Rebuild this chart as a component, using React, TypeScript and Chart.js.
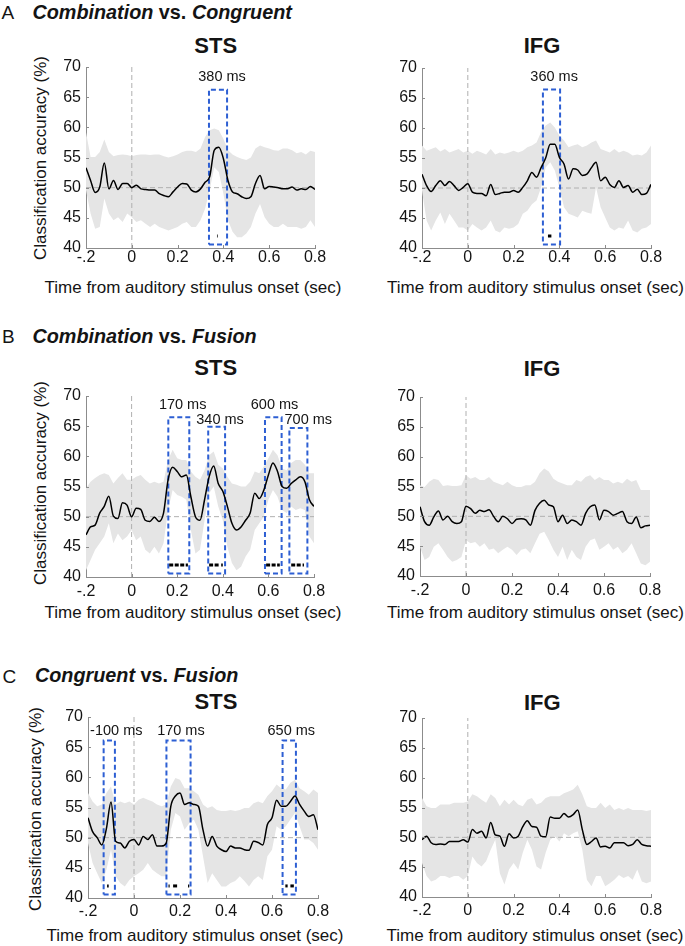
import React, { useEffect, useRef } from 'react';
import { Chart, registerables } from 'chart.js';

Chart.register(...registerables);

// ---------------- DATA ----------------
const TIME = [
  -0.2, -0.18, -0.16, -0.14, -0.12, -0.1, -0.08, -0.06, -0.04, -0.02,
  0, 0.02, 0.04, 0.06, 0.08, 0.1, 0.12, 0.14, 0.16, 0.18,
  0.2, 0.22, 0.24, 0.26, 0.28, 0.3, 0.32, 0.34, 0.36, 0.38,
  0.4, 0.42, 0.44, 0.46, 0.48, 0.5, 0.52, 0.54, 0.56, 0.58,
  0.6, 0.62, 0.64, 0.66, 0.68, 0.7, 0.72, 0.74, 0.76, 0.78, 0.8,
];

const X_TICKS = [-0.2, 0, 0.2, 0.4, 0.6, 0.8];
const X_TICK_LABELS = ['-.2', '0', '0.2', '0.4', '0.6', '0.8'];
const Y_TICKS = [40, 45, 50, 55, 60, 65, 70];
const CHANCE = 50;
const ONSET = 0;
const SIG_LEVEL = 42;
const WIN_BOTTOM = 40.6;

// A: Combination vs. Congruent — STS
const A_STS_MEAN = [53.3, 51.2, 49.2, 50.1, 54.1, 49.8, 51.2, 49.7, 50.7, 50.7, 50.0, 50.4, 49.8, 49.7, 49.6, 49.6, 49.0, 48.7, 48.5, 49.3, 50.1, 50.7, 50.6, 49.6, 49.3, 49.8, 50.9, 51.8, 56.2, 56.7, 54.8, 51.2, 49.3, 49.0, 48.5, 48.2, 48.5, 50.7, 52.0, 49.8, 50.2, 50.1, 50.0, 49.8, 49.8, 50.1, 49.6, 49.8, 49.7, 50.2, 49.7];
const A_STS_UPPER = [59.2, 55.1, 55.1, 55.9, 58.0, 55.9, 55.2, 55.4, 55.5, 55.4, 55.2, 55.4, 55.5, 55.5, 55.4, 55.5, 55.5, 55.2, 55.0, 55.2, 55.5, 55.9, 56.1, 56.1, 55.9, 56.5, 58.4, 59.5, 59.8, 59.5, 58.1, 56.2, 55.5, 55.1, 54.8, 54.6, 55.0, 56.5, 57.0, 56.7, 56.5, 56.2, 56.1, 56.5, 56.5, 56.2, 55.7, 55.9, 55.5, 56.1, 55.9];
const A_STS_LOWER = [49.6, 45.7, 43.2, 43.5, 48.2, 45.7, 44.6, 45.1, 44.3, 45.7, 45.1, 44.3, 44.6, 44.0, 43.5, 44.0, 43.5, 43.2, 42.9, 43.2, 43.5, 44.0, 44.3, 43.5, 43.5, 44.6, 46.5, 49.6, 53.4, 52.6, 49.0, 44.6, 42.7, 41.8, 41.8, 42.4, 43.5, 45.7, 47.3, 45.1, 44.0, 43.5, 43.5, 44.0, 43.5, 43.5, 43.5, 43.2, 43.5, 44.6, 43.5];
const A_STS_WIN_START = [0.337];
const A_STS_WIN_END = [0.416];
const A_STS_WIN_TOP = [66.25];
const A_STS_WIN_LABEL = ['380 ms'];
const A_STS_SIG = [[0.372, 0.375]];

// A: Combination vs. Congruent — IFG
const A_IFG_MEAN = [52.3, 50.4, 49.4, 50.4, 51.2, 50.4, 51.1, 50.4, 49.6, 50.1, 50.7, 49.3, 49.1, 49.1, 48.7, 50.6, 48.9, 49.1, 49.3, 49.3, 49.6, 49.3, 50.1, 51.2, 52.6, 51.8, 53.4, 55.0, 57.3, 57.3, 55.1, 54.0, 51.5, 53.2, 53.0, 52.1, 52.3, 53.4, 54.3, 51.2, 51.8, 50.6, 50.1, 51.2, 50.1, 50.4, 49.3, 49.8, 48.9, 49.1, 50.6];
const A_IFG_UPPER = [57.1, 56.2, 56.5, 56.8, 56.1, 56.5, 55.9, 56.2, 56.5, 55.9, 56.2, 55.7, 56.2, 55.9, 55.6, 56.5, 55.6, 55.9, 55.7, 55.9, 56.2, 55.9, 56.2, 56.8, 57.1, 57.6, 59.3, 60.4, 60.9, 60.1, 58.7, 57.9, 56.8, 57.1, 57.3, 56.8, 57.1, 57.6, 57.9, 56.5, 56.2, 55.9, 56.5, 55.9, 56.2, 55.9, 55.4, 55.6, 55.4, 55.9, 57.1];
const A_IFG_LOWER = [49.6, 44.6, 42.9, 44.6, 45.9, 44.0, 45.7, 44.6, 43.4, 43.4, 42.9, 44.0, 43.4, 42.9, 43.4, 44.6, 42.9, 42.6, 43.4, 43.2, 43.4, 44.0, 45.7, 46.2, 47.3, 47.9, 50.1, 53.4, 54.3, 52.9, 50.1, 46.8, 45.7, 45.4, 45.1, 46.2, 45.9, 45.7, 50.1, 46.8, 45.1, 43.4, 42.9, 43.4, 43.2, 44.6, 42.9, 42.6, 43.2, 43.4, 44.0];
const A_IFG_WIN_START = [0.328];
const A_IFG_WIN_END = [0.403];
const A_IFG_WIN_TOP = [66.4];
const A_IFG_WIN_LABEL = ['360 ms'];
const A_IFG_SIG = [[0.35, 0.365]];

// B: Combination vs. Fusion — STS
const B_STS_MEAN = [47.0, 48.3, 48.6, 50.6, 51.7, 53.4, 50.1, 49.7, 52.3, 51.9, 50.0, 51.4, 51.2, 49.4, 49.2, 49.9, 49.2, 50.6, 56.1, 58.2, 57.5, 56.6, 56.9, 53.3, 50.0, 49.4, 52.8, 56.6, 58.4, 55.5, 54.2, 51.7, 48.9, 47.8, 48.3, 49.4, 50.6, 53.9, 53.0, 54.4, 56.9, 58.9, 57.5, 55.0, 54.7, 55.5, 56.1, 56.6, 55.8, 52.8, 51.7];
const B_STS_UPPER = [54.7, 55.8, 56.4, 56.9, 57.2, 56.9, 55.5, 56.4, 57.2, 56.1, 56.1, 56.6, 56.9, 56.1, 55.5, 55.8, 55.5, 55.8, 59.4, 61.1, 59.7, 59.4, 59.4, 57.5, 56.6, 56.1, 57.7, 60.2, 60.8, 58.6, 58.0, 56.6, 55.5, 55.3, 55.0, 55.0, 55.8, 57.5, 57.2, 58.3, 59.7, 61.1, 60.2, 58.0, 57.7, 58.9, 59.4, 59.4, 58.6, 57.2, 57.2];
const B_STS_LOWER = [41.1, 42.8, 44.5, 45.6, 46.7, 48.9, 45.6, 47.2, 46.1, 46.7, 47.8, 46.1, 46.7, 44.5, 43.9, 45.0, 43.9, 45.6, 51.1, 54.4, 53.6, 53.3, 52.8, 47.8, 43.9, 44.5, 49.4, 53.9, 55.0, 51.7, 49.4, 45.0, 42.3, 41.1, 41.7, 43.4, 44.5, 47.8, 48.9, 50.0, 52.8, 54.4, 53.3, 51.1, 50.6, 51.7, 51.1, 51.4, 51.1, 46.7, 45.6];
const B_STS_WIN_START = [0.161, 0.336, 0.585, 0.692];
const B_STS_WIN_END = [0.253, 0.41, 0.658, 0.771];
const B_STS_WIN_TOP = [66.46, 64.9, 66.46, 64.7];
const B_STS_WIN_LABEL = ['170 ms', '340 ms', '600 ms', '700 ms'];
const B_STS_SIG = [[0.165, 0.247], [0.34, 0.385], [0.393, 0.4], [0.59, 0.65], [0.70, 0.742], [0.75, 0.756]];

// B: Combination vs. Fusion — IFG
const B_IFG_MEAN = [51.6, 49.1, 48.5, 49.9, 50.9, 49.4, 50.0, 49.1, 48.8, 49.1, 51.7, 51.3, 50.5, 51.0, 50.8, 51.1, 50.0, 49.1, 50.0, 49.6, 48.8, 49.5, 49.6, 49.4, 48.5, 51.0, 52.2, 52.7, 51.9, 51.6, 49.1, 50.2, 48.8, 49.4, 49.1, 48.5, 50.5, 51.6, 51.9, 49.4, 51.0, 50.8, 50.2, 50.5, 50.8, 49.1, 48.8, 49.9, 48.1, 48.4, 48.5];
const B_IFG_UPPER = [55.2, 54.9, 55.8, 56.3, 56.1, 55.1, 55.2, 55.1, 55.1, 55.2, 56.9, 56.3, 56.6, 56.1, 56.1, 56.6, 55.8, 55.5, 55.2, 55.8, 55.2, 54.9, 54.9, 55.2, 55.2, 55.8, 57.2, 58.0, 57.5, 56.3, 55.8, 55.5, 55.2, 55.2, 56.1, 55.8, 56.6, 56.9, 56.1, 56.6, 56.1, 56.1, 55.5, 55.8, 55.5, 56.3, 55.8, 56.1, 54.4, 54.4, 54.4];
const B_IFG_LOWER = [44.9, 42.7, 43.2, 44.9, 45.5, 44.4, 43.2, 42.4, 42.7, 43.2, 46.0, 45.5, 45.7, 44.9, 45.5, 44.4, 44.6, 43.8, 44.4, 44.9, 44.4, 43.5, 44.4, 44.6, 43.8, 45.5, 47.1, 47.4, 46.0, 44.4, 43.2, 44.9, 42.7, 44.4, 43.2, 42.7, 44.9, 46.0, 46.3, 44.4, 44.9, 45.5, 44.4, 44.9, 43.8, 44.4, 45.5, 43.8, 42.1, 41.8, 42.4];
const B_IFG_WIN_START: number[] = [];
const B_IFG_WIN_END: number[] = [];
const B_IFG_WIN_TOP: number[] = [];
const B_IFG_WIN_LABEL: string[] = [];
const B_IFG_SIG: number[][] = [];

// C: Congruent vs. Fusion — STS
const C_STS_MEAN = [53.3, 51.0, 50.0, 48.8, 51.5, 55.9, 49.4, 49.1, 48.3, 49.4, 49.7, 48.8, 50.2, 49.7, 50.5, 48.6, 48.6, 49.1, 55.2, 56.9, 57.4, 55.5, 55.8, 55.5, 55.2, 51.3, 48.6, 50.2, 48.6, 48.0, 47.7, 48.6, 48.3, 48.3, 48.0, 47.9, 49.4, 49.2, 48.8, 52.2, 53.3, 56.2, 55.2, 55.2, 56.0, 56.9, 55.5, 54.4, 53.5, 53.8, 51.3];
const C_STS_UPPER = [57.4, 56.0, 55.2, 55.5, 57.4, 58.5, 55.5, 56.0, 55.7, 56.0, 55.5, 56.3, 56.6, 56.3, 56.0, 55.5, 55.2, 55.5, 58.5, 59.9, 59.6, 58.2, 58.2, 57.7, 57.1, 55.5, 54.9, 55.2, 54.6, 54.4, 54.4, 54.6, 54.4, 54.6, 54.9, 54.9, 55.7, 56.0, 55.7, 56.9, 57.7, 58.8, 58.2, 58.0, 59.1, 59.6, 58.2, 57.7, 57.1, 58.0, 57.4];
const C_STS_LOWER = [49.1, 45.8, 44.1, 42.5, 44.7, 48.0, 43.6, 42.5, 41.9, 43.0, 43.6, 44.1, 44.7, 45.8, 44.7, 44.1, 43.6, 43.6, 51.3, 54.1, 53.5, 51.3, 52.4, 53.0, 51.3, 46.9, 42.5, 44.1, 43.0, 41.9, 41.9, 42.5, 42.8, 43.6, 42.8, 41.9, 43.0, 43.6, 43.0, 46.9, 48.0, 51.9, 51.3, 51.9, 53.0, 54.1, 51.9, 49.7, 49.7, 49.1, 48.0];
const C_STS_WIN_START = [-0.132, 0.141, 0.646];
const C_STS_WIN_END = [-0.083, 0.246, 0.704];
const C_STS_WIN_TOP = [66.1, 66.1, 66.1];
const C_STS_WIN_LABEL = ['-100 ms', '170 ms', '650 ms'];
const C_STS_SIG = [[-0.117, -0.11], [0.15, 0.155], [0.17, 0.19], [0.235, 0.24], [0.658, 0.668], [0.68, 0.695]];

// C: Congruent vs. Fusion — IFG
const C_IFG_MEAN = [49.6, 50.2, 49.1, 48.8, 48.9, 48.8, 49.3, 49.3, 49.3, 49.6, 49.2, 51.3, 50.7, 51.0, 49.9, 52.5, 50.4, 50.2, 48.5, 50.6, 49.9, 50.2, 51.8, 52.8, 51.8, 51.7, 50.2, 50.1, 53.4, 53.2, 53.2, 54.0, 53.4, 53.8, 54.6, 51.3, 48.8, 49.3, 49.9, 48.4, 48.5, 48.2, 49.1, 49.1, 49.1, 48.6, 48.8, 49.6, 48.8, 48.6, 48.5];
const C_IFG_UPPER = [56.6, 55.2, 54.9, 54.9, 55.5, 55.5, 55.5, 55.8, 55.8, 55.8, 56.0, 57.2, 56.9, 56.3, 55.8, 57.2, 56.6, 55.2, 56.3, 55.5, 56.3, 55.5, 55.2, 56.3, 56.6, 55.5, 55.8, 56.6, 56.9, 56.9, 56.9, 57.4, 57.7, 58.0, 58.8, 57.2, 55.2, 54.9, 54.9, 55.8, 54.9, 55.5, 54.6, 54.9, 54.6, 54.9, 54.6, 54.6, 54.6, 54.4, 54.6];
const C_IFG_LOWER = [45.7, 43.5, 42.6, 42.9, 43.5, 43.5, 43.2, 43.5, 43.5, 42.9, 43.5, 46.8, 45.7, 45.1, 46.0, 47.9, 49.6, 44.0, 42.1, 44.6, 45.7, 44.6, 47.4, 49.6, 47.9, 45.1, 44.6, 47.4, 49.6, 50.2, 49.3, 50.7, 50.2, 50.7, 51.0, 47.9, 42.9, 41.8, 43.5, 43.5, 41.8, 42.3, 42.9, 43.7, 43.2, 43.5, 42.9, 44.6, 42.6, 42.3, 42.6];
const C_IFG_WIN_START: number[] = [];
const C_IFG_WIN_END: number[] = [];
const C_IFG_WIN_TOP: number[] = [];
const C_IFG_WIN_LABEL: string[] = [];
const C_IFG_SIG: number[][] = [];

// ---------------- STYLE / LAYOUT ----------------
const FONT = '"Liberation Sans", Arial, Helvetica, sans-serif';
const BAND = '#e5e5e5';
const REF = '#b0b0b0';
const AXIS = '#8c8c8c';
const TEXT = '#141414';
const BLUE = '#2d5fd3';
const PAD_TOP = 16;
const X_AXIS_H = 34;
const TICK_FS = 16;

type Panel = {
  mean: number[]; upper: number[]; lower: number[];
  wStart: number[]; wEnd: number[]; wTop: number[]; wLabel: string[];
  sig: number[][];
  labelAt: number[][]; // anchor of each window label, in data units
  canvasLeft: number; canvasWidth: number;
  area: { l: number; r: number; t: number; b: number };
  xPad: number;
};

const PANELS: Panel[] = [
  { mean: A_STS_MEAN, upper: A_STS_UPPER, lower: A_STS_LOWER, wStart: A_STS_WIN_START, wEnd: A_STS_WIN_END, wTop: A_STS_WIN_TOP, wLabel: A_STS_WIN_LABEL, sig: A_STS_SIG,
    labelAt: [[0.394, 68.3]], canvasLeft: 0, canvasWidth: 340, area: { l: 86, r: 315, t: 67, b: 248 }, xPad: 0 },
  { mean: A_IFG_MEAN, upper: A_IFG_UPPER, lower: A_IFG_LOWER, wStart: A_IFG_WIN_START, wEnd: A_IFG_WIN_END, wTop: A_IFG_WIN_TOP, wLabel: A_IFG_WIN_LABEL, sig: A_IFG_SIG,
    labelAt: [[0.377, 68.5]], canvasLeft: 340, canvasWidth: 345, area: { l: 422, r: 651, t: 68, b: 248 }, xPad: 0 },
  { mean: B_STS_MEAN, upper: B_STS_UPPER, lower: B_STS_LOWER, wStart: B_STS_WIN_START, wEnd: B_STS_WIN_END, wTop: B_STS_WIN_TOP, wLabel: B_STS_WIN_LABEL, sig: B_STS_SIG,
    labelAt: [[0.224, 68.5], [0.388, 66.0], [0.627, 68.5], [0.775, 66.0]], canvasLeft: 0, canvasWidth: 340, area: { l: 86, r: 314, t: 396, b: 577 }, xPad: 5 },
  { mean: B_IFG_MEAN, upper: B_IFG_UPPER, lower: B_IFG_LOWER, wStart: B_IFG_WIN_START, wEnd: B_IFG_WIN_END, wTop: B_IFG_WIN_TOP, wLabel: B_IFG_WIN_LABEL, sig: B_IFG_SIG,
    labelAt: [], canvasLeft: 340, canvasWidth: 345, area: { l: 420, r: 650, t: 397, b: 576 }, xPad: 5 },
  { mean: C_STS_MEAN, upper: C_STS_UPPER, lower: C_STS_LOWER, wStart: C_STS_WIN_START, wEnd: C_STS_WIN_END, wTop: C_STS_WIN_TOP, wLabel: C_STS_WIN_LABEL, sig: C_STS_SIG,
    labelAt: [[-0.077, 67.6], [0.204, 67.6], [0.684, 67.6]], canvasLeft: 0, canvasWidth: 340, area: { l: 88, r: 318, t: 717, b: 898 }, xPad: 4 },
  { mean: C_IFG_MEAN, upper: C_IFG_UPPER, lower: C_IFG_LOWER, wStart: C_IFG_WIN_START, wEnd: C_IFG_WIN_END, wTop: C_IFG_WIN_TOP, wLabel: C_IFG_WIN_LABEL, sig: C_IFG_SIG,
    labelAt: [], canvasLeft: 340, canvasWidth: 345, area: { l: 422, r: 651, t: 718, b: 897 }, xPad: 4 },
];

function canvasGeom(p: Panel) {
  const W = p.canvasWidth;
  const H = (p.area.b - p.area.t) + PAD_TOP + X_AXIS_H;
  return { W, H, top: p.area.t - PAD_TOP };
}

function makeOverlay(p: Panel) {
  return {
    id: 'overlay',
    afterDatasetsDraw(chart: any) {
      const { ctx, scales } = chart;
      const x = scales.x, y = scales.y;
      ctx.save();
      ctx.strokeStyle = AXIS;
      ctx.lineWidth = 1;
      for (const v of X_TICKS) {
        const px = Math.round(x.getPixelForValue(v)) + 0.5;
        ctx.beginPath(); ctx.moveTo(px, y.bottom); ctx.lineTo(px, y.bottom - 3); ctx.stroke();
      }
      for (const v of Y_TICKS) {
        const py = Math.round(y.getPixelForValue(v)) + 0.5;
        ctx.beginPath(); ctx.moveTo(x.left, py); ctx.lineTo(x.left + 3, py); ctx.stroke();
      }
      ctx.fillStyle = TEXT;
      ctx.font = `14.5px ${FONT}`;
      ctx.textAlign = 'center';
      ctx.textBaseline = 'middle';
      p.wLabel.forEach((lab, i) => {
        const a = p.labelAt[i];
        ctx.fillText(lab, x.getPixelForValue(a[0]), y.getPixelForValue(a[1]));
      });
      ctx.restore();
    },
  };
}

function buildChart(canvas: HTMLCanvasElement, p: Panel) {
  const { W } = canvasGeom(p);
  const yAxisW = p.area.l - p.canvasLeft;
  const padRight = p.canvasLeft + W - p.area.r;
  const pts = (ys: number[]) => TIME.map((t, i) => ({ x: t, y: ys[i] }));
  const datasets: any[] = [
    { data: pts(p.upper), borderWidth: 0, borderColor: 'rgba(0,0,0,0)', backgroundColor: BAND, fill: '+1', pointRadius: 0, order: 10, tension: 0 },
    { data: pts(p.lower), borderWidth: 0, borderColor: 'rgba(0,0,0,0)', fill: false, pointRadius: 0, order: 9, tension: 0 },
    { data: [{ x: X_TICKS[0], y: CHANCE }, { x: X_TICKS[X_TICKS.length - 1], y: CHANCE }], borderColor: REF, borderWidth: 1, borderDash: [5, 3], pointRadius: 0, fill: false, order: 8 },
    { data: [{ x: ONSET, y: Y_TICKS[0] }, { x: ONSET, y: Y_TICKS[Y_TICKS.length - 1] }], borderColor: REF, borderWidth: 1, borderDash: [5, 3], pointRadius: 0, fill: false, order: 8 },
  ];
  p.wStart.forEach((s, i) => {
    const e = p.wEnd[i], top = p.wTop[i];
    datasets.push({
      data: [{ x: s, y: WIN_BOTTOM }, { x: e, y: WIN_BOTTOM }, { x: e, y: top }, { x: s, y: top }, { x: s, y: WIN_BOTTOM }],
      borderColor: BLUE, borderWidth: 2, borderDash: [5, 3], pointRadius: 0, fill: false, order: 3, tension: 0,
    });
  });
  datasets.push({ data: pts(p.mean), borderColor: '#000', borderWidth: 1.5, pointRadius: 0, fill: false, order: 2, cubicInterpolationMode: 'monotone' });
  p.sig.forEach((seg) => {
    datasets.push({ data: [{ x: seg[0], y: SIG_LEVEL }, { x: seg[1], y: SIG_LEVEL }], borderColor: '#000', borderWidth: 3, borderDash: [4, 1.5], pointRadius: 0, fill: false, order: 1 });
  });

  return new Chart(canvas, {
    type: 'line',
    data: { datasets },
    plugins: [makeOverlay(p)],
    options: {
      responsive: false,
      animation: false,
      events: [],
      layout: { padding: { left: 0, right: padRight, top: PAD_TOP, bottom: 0 } },
      plugins: { legend: { display: false }, tooltip: { enabled: false }, title: { display: false } },
      scales: {
        x: {
          type: 'linear', min: X_TICKS[0], max: X_TICKS[X_TICKS.length - 1],
          grid: { display: false, drawTicks: false }, border: { display: true, color: AXIS, width: 1 },
          ticks: { font: { family: FONT, size: TICK_FS }, color: TEXT, padding: p.xPad, maxRotation: 0, autoSkip: false, callback: (_v: any, i: number) => X_TICK_LABELS[i] },
          afterBuildTicks: (s: any) => { s.ticks = X_TICKS.map((v) => ({ value: v })); },
          afterFit: (s: any) => { s.height = X_AXIS_H; },
        },
        y: {
          type: 'linear', min: Y_TICKS[0], max: Y_TICKS[Y_TICKS.length - 1],
          grid: { display: false, drawTicks: false }, border: { display: true, color: AXIS, width: 1 },
          ticks: { font: { family: FONT, size: TICK_FS }, color: TEXT, padding: 5, autoSkip: false, callback: (v: any) => String(v) },
          afterBuildTicks: (s: any) => { s.ticks = Y_TICKS.map((v) => ({ value: v })); },
          afterFit: (s: any) => { s.width = yAxisW; },
        },
      },
    } as any,
  });
}

function PanelChart({ p }: { p: Panel }) {
  const ref = useRef<HTMLCanvasElement>(null);
  useEffect(() => {
    if (!ref.current) return;
    const c = buildChart(ref.current, p);
    return () => c.destroy();
  }, [p]);
  const { W, H, top } = canvasGeom(p);
  return (
    <canvas ref={ref} width={W} height={H}
      style={{ position: 'absolute', left: p.canvasLeft, top, width: W, height: H }} />
  );
}

// text helpers (baseline-positioned)
const base = (baseline: number, fs: number) => baseline - fs * 0.8465;

function Txt({ x, baseline, fs, weight, center, children }: any) {
  return (
    <div style={{
      position: 'absolute', left: x, top: base(baseline, fs), fontSize: fs, lineHeight: `${fs}px`,
      fontWeight: weight || 'normal', whiteSpace: 'nowrap', color: TEXT,
      transform: center ? 'translateX(-50%)' : undefined,
    }}>{children}</div>
  );
}

function YTitle({ cx, cy }: { cx: number; cy: number }) {
  return (
    <div style={{
      position: 'absolute', left: cx, top: cy, fontSize: 17, lineHeight: '17px', whiteSpace: 'nowrap', color: TEXT,
      transform: 'translate(-50%, -50%) rotate(-90deg)',
    }}>Classification accuracy (%)</div>
  );
}

const XT = 'Time from auditory stimulus onset (sec)';

export default function App() {
  const I = { fontStyle: 'italic' } as const;
  return (
    <div style={{ position: 'absolute', left: 0, top: 0, width: 685, height: 946, background: '#fff', fontFamily: FONT, overflow: 'hidden' }}>
      {/* Section headers */}
      <Txt x={1.5} baseline={19.3} fs={19}>A</Txt>
      <Txt x={32.5} baseline={19.3} fs={19.8} weight="bold"><span style={I}>Combination</span> vs. <span style={I}>Congruent</span></Txt>
      <Txt x={2} baseline={343.3} fs={19}>B</Txt>
      <Txt x={32.5} baseline={343.3} fs={19.8} weight="bold"><span style={I}>Combination</span> vs. <span style={I}>Fusion</span></Txt>
      <Txt x={2.5} baseline={682.7} fs={19}>C</Txt>
      <Txt x={35} baseline={682.7} fs={19.8} weight="bold"><span style={I}>Congruent</span> vs. <span style={I}>Fusion</span></Txt>

      {/* Region titles */}
      <Txt x={215.7} baseline={54} fs={22} weight="bold" center>STS</Txt>
      <Txt x={542} baseline={54} fs={22} weight="bold" center>IFG</Txt>
      <Txt x={215.7} baseline={376} fs={22} weight="bold" center>STS</Txt>
      <Txt x={542} baseline={376.5} fs={22} weight="bold" center>IFG</Txt>
      <Txt x={216} baseline={710} fs={22} weight="bold" center>STS</Txt>
      <Txt x={542.3} baseline={710.5} fs={22} weight="bold" center>IFG</Txt>

      {/* Y axis titles */}
      <YTitle cx={40} cy={157.5} />
      <YTitle cx={40} cy={483} />
      <YTitle cx={35} cy={808.5} />

      {/* X axis titles */}
      <Txt x={193} baseline={293} fs={17} center>{XT}</Txt>
      <Txt x={535.5} baseline={293} fs={17} center>{XT}</Txt>
      <Txt x={193} baseline={618.5} fs={17} center>{XT}</Txt>
      <Txt x={535.5} baseline={618.5} fs={17} center>{XT}</Txt>
      <Txt x={195} baseline={941} fs={17} center>{XT}</Txt>
      <Txt x={535} baseline={941} fs={17} center>{XT}</Txt>

      {PANELS.map((p, i) => <PanelChart key={i} p={p} />)}
    </div>
  );
}
